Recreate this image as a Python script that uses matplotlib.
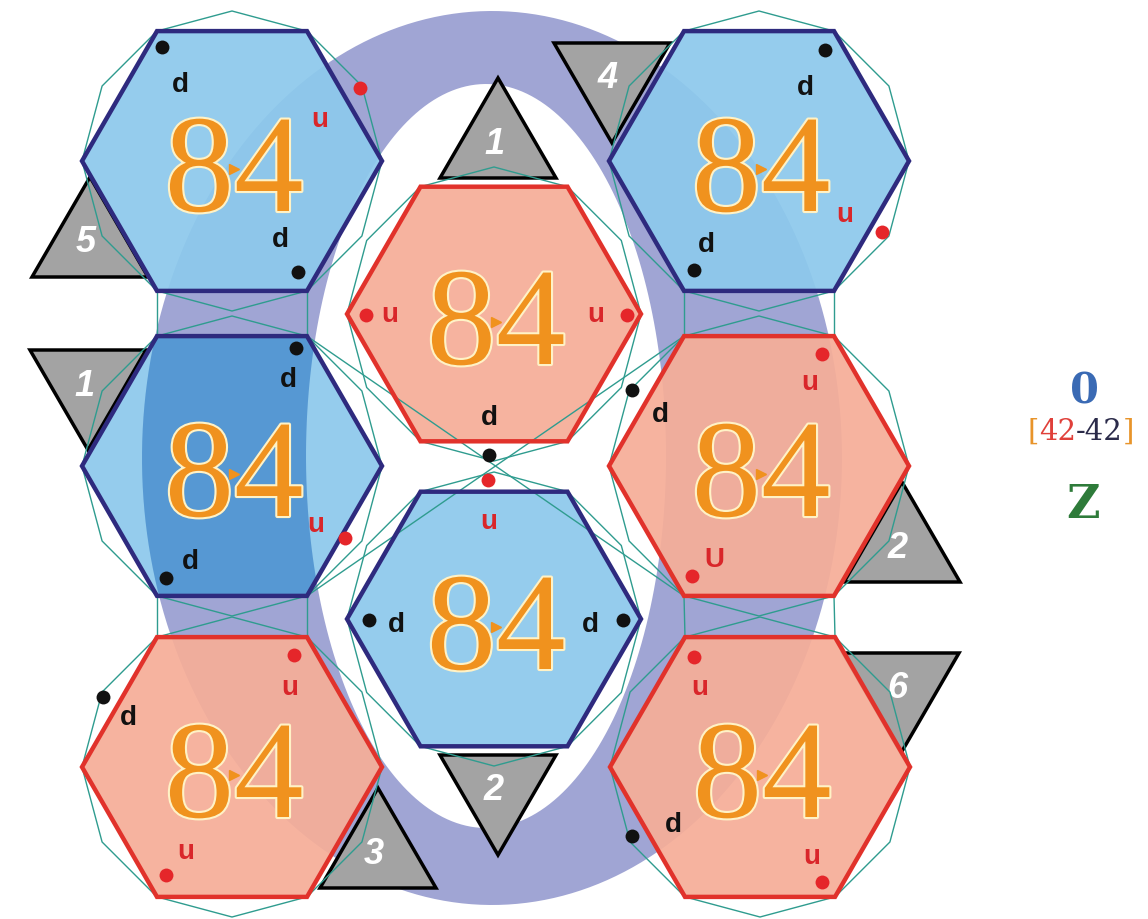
import numpy as np
import matplotlib.pyplot as plt
from matplotlib.patches import Polygon, PathPatch
from matplotlib.path import Path
import matplotlib.patheffects as pe

# hexagon centres (pixel coords, y down), kind b = blue, r = red
hex_x = [232, 232, 232, 494, 494, 759, 759, 760]
hex_y = [161, 466, 767, 314, 619, 161, 466, 767]
hex_r = [150, 150, 150, 147, 147, 150, 150, 150]
hex_kind = ['b', 'b', 'r', 'r', 'b', 'b', 'r', 'r']
hex_label = '84'

# grey triangles: x of centre, y of flat edge, direction, number
tri_x = [90, 612, 498, 88, 902, 498, 378, 901]
tri_y = [277, 43, 178, 350, 582, 755, 888, 653]
tri_dir = ['up', 'down', 'up', 'down', 'up', 'down', 'up', 'down']
tri_num = ['5', '4', '1', '1', '2', '2', '3', '6']

# quark dots
dot_x = [162, 360, 298, 825, 882, 694, 366, 627, 489, 296, 345, 166,
         632, 822, 692, 488, 369, 623, 103, 294, 166, 694, 632, 822]
dot_y = [47, 88, 272, 50, 232, 270, 315, 315, 455, 348, 538, 578,
         390, 354, 576, 480, 620, 620, 697, 655, 875, 657, 836, 882]
dot_kind = ['d', 'u', 'd', 'd', 'u', 'd', 'u', 'u', 'd', 'd', 'u', 'd',
            'd', 'u', 'u', 'u', 'd', 'd', 'd', 'u', 'u', 'u', 'd', 'u']

# quark letters
lab_x = [180, 320, 280, 805, 845, 706, 390, 596, 489, 288, 316, 190,
         660, 810, 714, 489, 396, 590, 128, 290, 186, 700, 673, 812]
lab_y = [85, 120, 240, 88, 215, 245, 315, 315, 418, 380, 525, 562,
         415, 383, 560, 522, 625, 625, 718, 688, 852, 688, 825, 857]
lab_txt = ['d', 'u', 'd', 'd', 'u', 'd', 'u', 'u', 'd', 'd', 'u', 'd',
           'd', 'u', 'U', 'u', 'd', 'd', 'd', 'u', 'u', 'u', 'd', 'u']

# ring (outer / inner ellipse: cx, cy, half width, half height)
ring_outer = [492, 458, 350, 447]
ring_inner = [486, 456, 180, 372]

# side legend
side_top = '0'
side_mid = [('[', '#E8942A'), ('42', '#E0403A'), ('-42', '#2B2B4A'), (']', '#E8942A')]
side_bot = 'Z'

BLUE_FILL = '#8DC9EC'
BLUE_EDGE = '#2E2A7E'
RED_FILL = '#F6AE98'
RED_EDGE = '#E1322B'
RING = '#A0A5D4'
LINE = '#2F9C8F'
ORANGE = '#F0921E'


def poly_pts(cx, cy, r, n=6, start=0.0):
    a = np.deg2rad(start + 360.0 / n * np.arange(n))
    return np.column_stack([cx + r * np.cos(a), cy + r * np.sin(a)])


def ellipse_pts(e, reverse=False):
    t = np.linspace(0, 2 * np.pi, 240)
    if reverse:
        t = t[::-1]
    return np.column_stack([e[0] + e[2] * np.cos(t), e[1] + e[3] * np.sin(t)])


fig = plt.figure(figsize=(11.48, 9.19), dpi=100)
ax = fig.add_axes([0, 0, 1, 1])
ax.set_xlim(0, 1148)
ax.set_ylim(919, 0)
ax.axis('off')

# ring
o = ellipse_pts(ring_outer)
i = ellipse_pts(ring_inner, reverse=True)
codes = [Path.MOVETO] + [Path.LINETO] * (len(o) - 2) + [Path.CLOSEPOLY]
ring_path = Path(np.vstack([o, i]), codes + codes)
ax.add_patch(PathPatch(ring_path, facecolor=RING, edgecolor='none', zorder=1))

# triangles
for x, y, d, n in zip(tri_x, tri_y, tri_dir, tri_num):
    h = 100 if d == 'up' else -100
    pts = [(x - 58, y), (x + 58, y), (x, y - h)]
    ax.add_patch(Polygon(pts, closed=True, facecolor='#A3A3A3', edgecolor='black',
                         lw=2.5, zorder=2))
    ty = y - 34 if d == 'up' else y + 36
    ax.text(x - 4, ty, n, ha='center', va='center', fontsize=26, color='white',
            fontweight='bold', style='italic', family='Liberation Sans', zorder=3)

# thin twelve-gons and connecting lines
for cx, cy, r in zip(hex_x, hex_y, hex_r):
    p = poly_pts(cx, cy, r, n=12)
    ax.add_patch(Polygon(p, closed=True, fill=False, edgecolor=LINE, lw=1, zorder=6))

pairs = [(0, 1), (1, 2), (5, 6), (6, 7)]
for a, b in pairs:
    pa = poly_pts(hex_x[a], hex_y[a], hex_r[a])
    pb = poly_pts(hex_x[b], hex_y[b], hex_r[b])
    # bottom vertices of upper hex (60, 120 deg) to top vertices of lower (300, 240)
    ax.plot([pa[1][0], pb[5][0]], [pa[1][1], pb[5][1]], color=LINE, lw=1, zorder=6)
    ax.plot([pa[2][0], pb[4][0]], [pa[2][1], pb[4][1]], color=LINE, lw=1, zorder=6)
pl = poly_pts(hex_x[1], hex_y[1], hex_r[1])
pr = poly_pts(hex_x[6], hex_y[6], hex_r[6])
ax.plot([pl[5][0], pr[2][0]], [pl[5][1], pr[2][1]], color=LINE, lw=1, zorder=6)
ax.plot([pl[1][0], pr[4][0]], [pl[1][1], pr[4][1]], color=LINE, lw=1, zorder=6)

# hexagons
for k, (cx, cy, r, kind) in enumerate(zip(hex_x, hex_y, hex_r, hex_kind)):
    pts = poly_pts(cx, cy, r)
    fc = BLUE_FILL if kind == 'b' else RED_FILL
    ec = BLUE_EDGE if kind == 'b' else RED_EDGE
    hp = Polygon(pts, closed=True, facecolor=fc, edgecolor='none', alpha=0.93, zorder=4)
    ax.add_patch(hp)
    if k == 1:
        dark = PathPatch(ring_path, facecolor='#4F92D0', edgecolor='none', alpha=0.88,
                         zorder=4.5)
        ax.add_patch(dark)
        dark.set_clip_path(hp)
    ax.add_patch(Polygon(pts, closed=True, fill=False, edgecolor=ec, lw=3.2, zorder=7))
    ax.text(cx + 2, cy + 50, hex_label, ha='center', va='baseline', fontsize=100,
            family='Liberation Serif', color=ORANGE, zorder=8,
            path_effects=[pe.withStroke(linewidth=3, foreground='#FFF2C6')])
    ax.plot(cx + 2, cy + 8, marker='>', ms=7, color=ORANGE, zorder=9)

# dots and letters
for x, y, k in zip(dot_x, dot_y, dot_kind):
    ax.plot(x, y, 'o', ms=10, color='#111111' if k == 'd' else '#E5262A',
            mec='none', zorder=10)
for x, y, t in zip(lab_x, lab_y, lab_txt):
    ax.text(x, y, t, ha='center', va='center', fontsize=20, fontweight='bold',
            family='Liberation Sans', color='#111111' if t == 'd' else '#D9262A', zorder=10)

# side legend
ax.text(1085, 391, side_top, ha='center', va='center', fontsize=30, fontweight='bold',
        family='DejaVu Serif', color='#3A6AB4')
ax.text(1083, 505, side_bot, ha='center', va='center', fontsize=33, fontweight='bold',
        family='DejaVu Serif', color='#2E7B3A')
fig.canvas.draw()
ren = fig.canvas.get_renderer()
pieces = []
for s, c in side_mid:
    t = ax.text(0, 432, s, ha='left', va='center', fontsize=21, family='DejaVu Serif', color=c)
    pieces.append((t, t.get_window_extent(ren).width))
x0 = 1081 - sum(w for _, w in pieces) / 2
for t, w in pieces:
    t.set_x(x0)
    x0 += w

fig.savefig('out.png', dpi=100)
